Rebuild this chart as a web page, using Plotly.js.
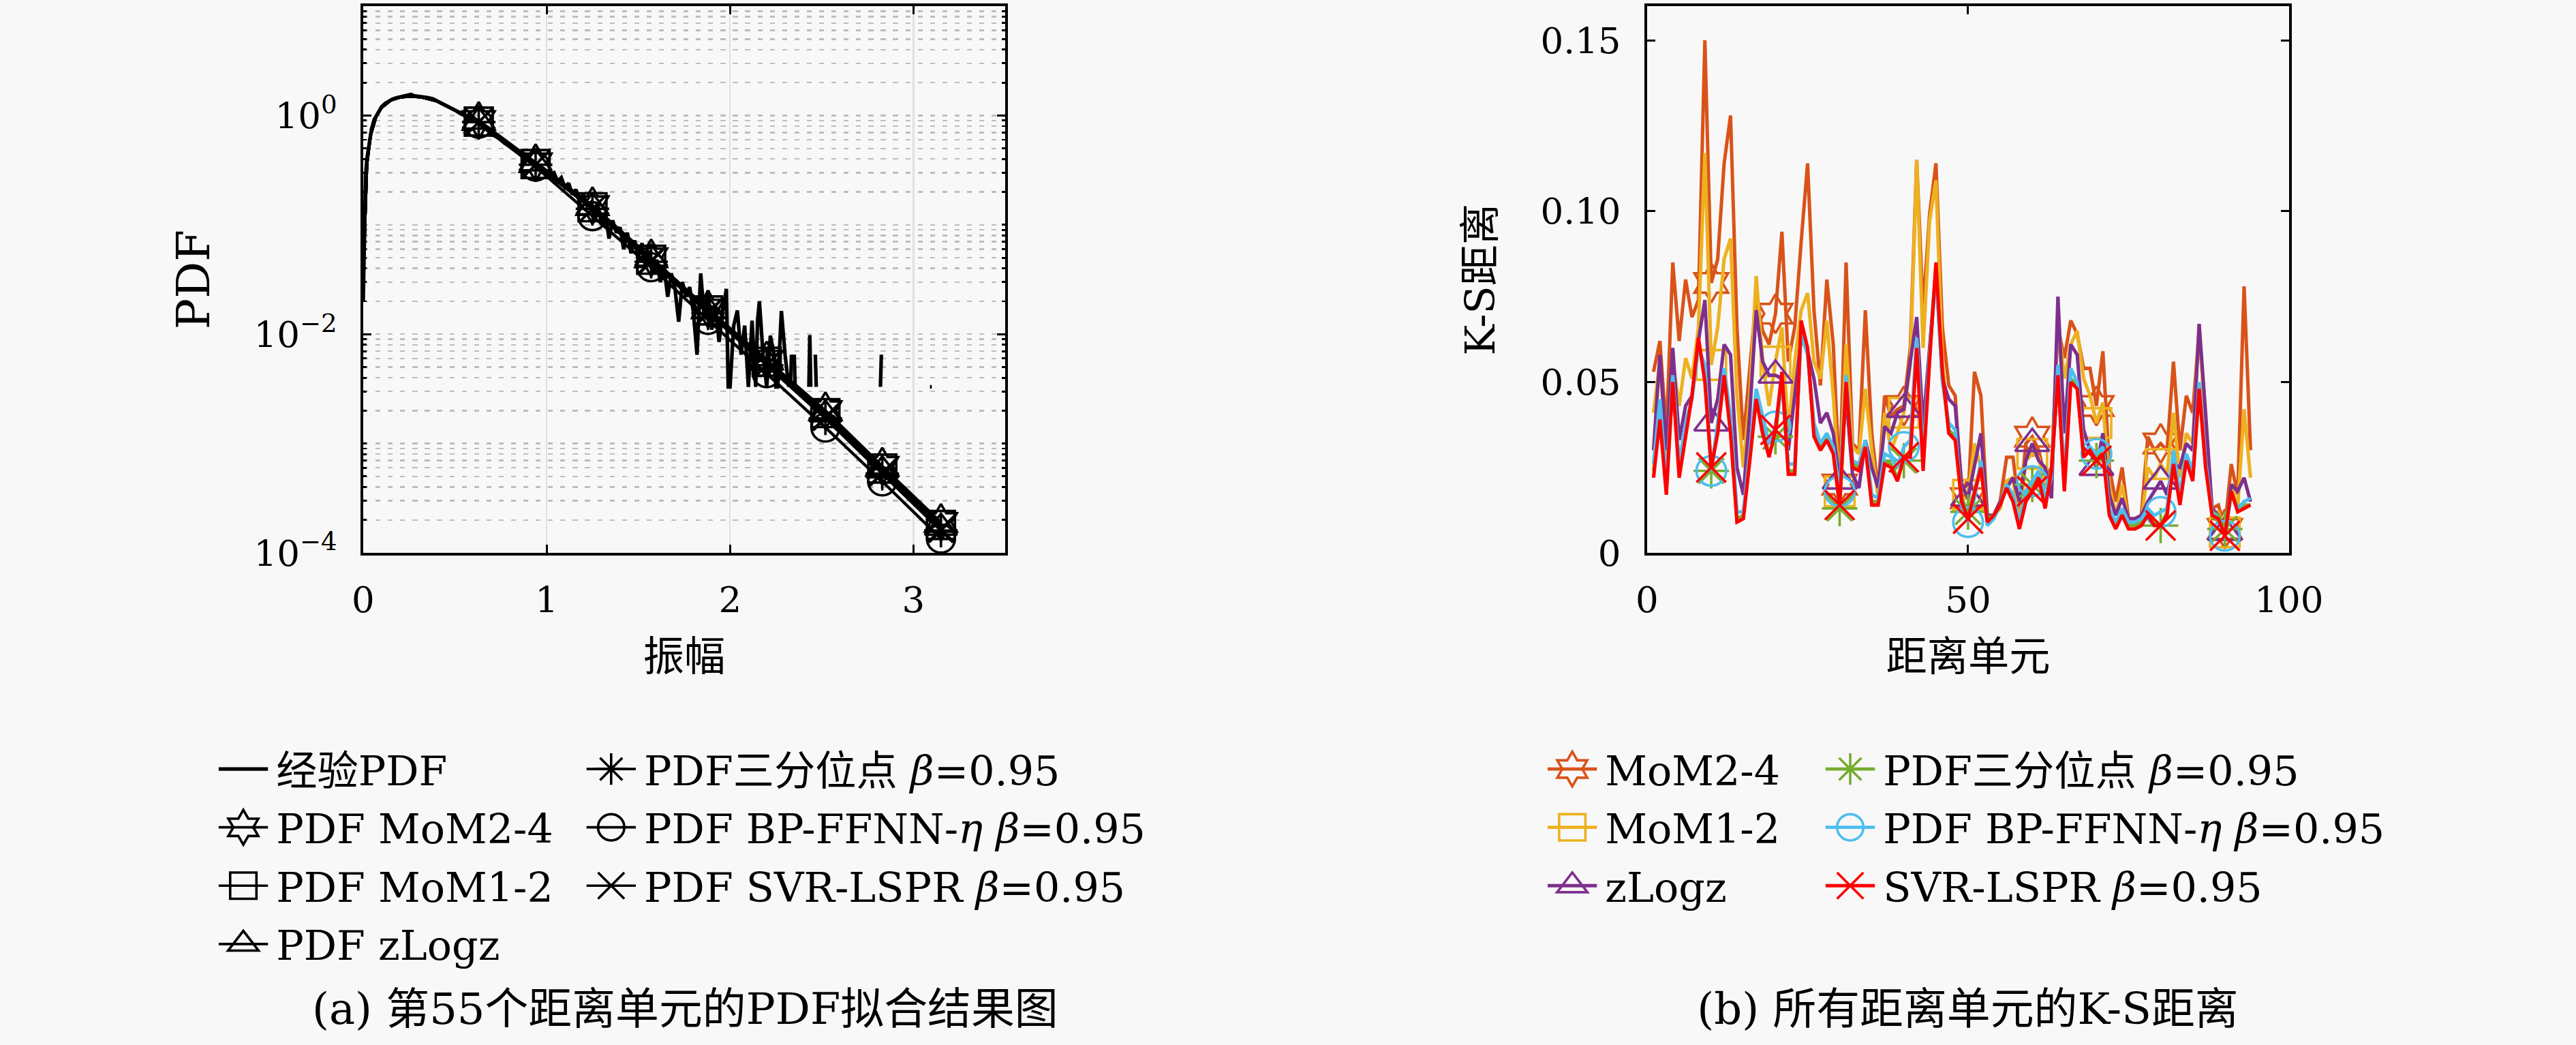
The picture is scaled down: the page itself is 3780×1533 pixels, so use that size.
<!DOCTYPE html>
<html>
<head>
<meta charset="utf-8">
<script src="https://cdn.plot.ly/plotly-3.0.1.min.js"></script>
<style>
	body  { margin: 0; background: #f8f8f8; }
	#wrap { width: 3780px; height: 1533px; overflow: hidden; }
	#plot { width: 1568px; height: 636px; transform: scale( 2.41071 ); transform-origin: 0 0; }
</style>
</head>
<body>
<div id="wrap"><div id="plot"></div></div>
<script>
// (a) empirical PDF of range cell 55, null = empty bin (gap on log axis)
const EMP_X = [ 0, 0.004, 0.008, 0.013, 0.02, 0.03, 0.045, 0.06, 0.08, 0.1, 0.12, 0.14, 0.16, 0.18,
	0.2, 0.22, 0.24, 0.26, 0.28, 0.3, 0.32, 0.35, 0.38, 0.41, 0.44, 0.47, 0.5, 0.53, 0.56, 0.59,
	0.62, 0.65, 0.68, 0.71, 0.74, 0.77, 0.8, 0.83, 0.86, 0.89, 0.92, 0.95, 0.98,
	1.0, 1.02, 1.04, 1.06, 1.08, 1.1, 1.12, 1.14, 1.16, 1.18, 1.2, 1.22, 1.24, 1.26, 1.28, 1.3,
	1.32, 1.34, 1.36, 1.38, 1.4, 1.42, 1.44, 1.46, 1.48, 1.5, 1.52, 1.54, 1.56, 1.58,
	1.6, 1.62, 1.64, 1.66, 1.68, 1.7, 1.72, 1.74, 1.76, 1.78, 1.8, 1.82, 1.84, 1.86, 1.88, 1.9,
	1.92, 1.94, 1.96, 1.98, 1.99, 2.0, 2.02, 2.04, 2.06, 2.08, 2.1, 2.12, 2.14, 2.15, 2.16, 2.18,
	2.2, 2.22, 2.24, 2.25, 2.26, 2.28, 2.3, 2.32, null,
	2.33, 2.335, null, 2.35, 2.355, null, 2.43, 2.435, 2.44, null, 2.465, 2.47, null,
	2.82, 2.825, null, 3.09, 3.1 ];
const EMP_Y = [ 0.02, 0.09, 0.17, 0.28, 0.4, 0.55, 0.75, 0.92, 1.08, 1.2, 1.29, 1.36, 1.41, 1.45,
	1.47, 1.5, 1.52, 1.56, 1.51, 1.5, 1.48, 1.46, 1.42, 1.34, 1.28, 1.19, 1.12, 1.04, 0.98, 0.92,
	0.88, 0.8, 0.74, 0.66, 0.62, 0.56, 0.53, 0.49, 0.46, 0.41, 0.39, 0.35, 0.33,
	0.31, 0.29, 0.3, 0.25, 0.27, 0.22, 0.24, 0.19, 0.21, 0.17, 0.19, 0.15, 0.16, 0.12, 0.15, 0.1,
	0.13, 0.075, 0.11, 0.085, 0.095, 0.06, 0.085, 0.055, 0.072, 0.05, 0.068, 0.04, 0.058, 0.036,
	0.048, 0.03, 0.042, 0.022, 0.036, 0.026, 0.013, 0.03, 0.022, 0.027, 0.016, 0.0065, 0.036, 0.014, 0.025, 0.011,
	0.019, 0.0085, 0.016, 0.026, 0.0033, 0.0033, 0.012, 0.0165, 0.0065, 0.012, 0.0033, 0.0133, 0.0033, 0.0133, 0.02, 0.0065,
	0.0033, 0.0097, 0.0065, 0.0033, 0.0033, 0.0163, 0.0065, 0.0033, null,
	0.0033, 0.0065, null, 0.0065, 0.0033, null, 0.0033, 0.0098, 0.0033, null, 0.0065, 0.0033, null,
	0.0033, 0.0065, null, 0.0033, 0.0033 ];

// (a) fitted PDFs: common rising part + values at the marked amplitudes
const FIT_HEAD_X = [ 0.003, 0.01, 0.02, 0.04, 0.07, 0.1, 0.15, 0.2, 0.26, 0.32, 0.4, 0.5 ];
const FIT_HEAD_Y = [ 0.05, 0.18, 0.36, 0.66, 0.98, 1.18, 1.38, 1.47, 1.5, 1.47, 1.36, 1.12 ];
const FIT_MARK_X = [ 0.63, 0.94, 1.25, 1.57, 1.88, 2.2, 2.52, 2.83, 3.15 ];
const FIT_MOM24  = [ 0.9, 0.37, 0.15, 0.05, 0.017, 0.0058, 0.002, 0.00062, 0.00019 ];
const FIT_MOM12  = [ 0.88, 0.36, 0.145, 0.048, 0.0165, 0.0056, 0.0019, 0.00059, 0.00018 ];
const FIT_ZLOGZ  = [ 0.88, 0.365, 0.145, 0.049, 0.0165, 0.0055, 0.00185, 0.00057, 0.00017 ];
const FIT_TRI    = [ 0.87, 0.355, 0.14, 0.046, 0.0155, 0.0052, 0.0017, 0.00053, 0.00016 ];
const FIT_BP     = [ 0.84, 0.34, 0.12, 0.041, 0.0135, 0.0044, 0.0014, 0.00045, 0.000135 ];
const FIT_SVR    = [ 0.87, 0.355, 0.14, 0.047, 0.0158, 0.0053, 0.00175, 0.00054, 0.000165 ];

// (b) K-S distance for all range cells
const CELLS = [ 1, 2, 3, 4, 5, 6, 7, 8, 9, 10, 11, 12, 13, 14, 15, 16, 17, 18, 19, 20,
	21, 22, 23, 24, 25, 26, 27, 28, 29, 30, 31, 32, 33, 34, 35, 36, 37, 38, 39, 40,
	41, 42, 43, 44, 45, 46, 47, 48, 49, 50, 51, 52, 53, 54, 55, 56, 57, 58, 59, 60,
	61, 62, 63, 64, 65, 66, 67, 68, 69, 70, 71, 72, 73, 74, 75, 76, 77, 78, 79, 80,
	81, 82, 83, 84, 85, 86, 87, 88, 89, 90, 91, 92, 93, 94 ];
const MARK_CELLS = [ 10, 20, 30, 40, 50, 60, 70, 80, 90 ];
const KS_MOM24 = [ 0.053, 0.062, 0.035, 0.085, 0.062, 0.080, 0.069, 0.074, 0.150, 0.079,
	0.086, 0.114, 0.128, 0.066, 0.033, 0.056, 0.075, 0.065, 0.061, 0.070,
	0.094, 0.056, 0.066, 0.091, 0.114, 0.071, 0.049, 0.080, 0.061, 0.020,
	0.085, 0.032, 0.030, 0.071, 0.035, 0.018, 0.046, 0.040, 0.042, 0.043,
	0.060, 0.115, 0.071, 0.099, 0.114, 0.066, 0.049, 0.046, 0.017, 0.016,
	0.053, 0.046, 0.011, 0.011, 0.015, 0.028, 0.028, 0.012, 0.032, 0.034,
	0.030, 0.022, 0.025, 0.066, 0.057, 0.068, 0.064, 0.054, 0.054, 0.043,
	0.059, 0.025, 0.015, 0.025, 0.010, 0.010, 0.011, 0.034, 0.030, 0.032,
	0.030, 0.056, 0.030, 0.046, 0.041, 0.065, 0.040, 0.013, 0.014, 0.007,
	0.026, 0.017, 0.078, 0.030 ];
const KS_MOM12 = [ 0.041, 0.056, 0.028, 0.056, 0.043, 0.057, 0.051, 0.066, 0.117, 0.055,
	0.066, 0.086, 0.092, 0.046, 0.025, 0.046, 0.081, 0.056, 0.043, 0.056,
	0.066, 0.035, 0.056, 0.071, 0.076, 0.056, 0.051, 0.068, 0.046, 0.018,
	0.061, 0.031, 0.029, 0.048, 0.030, 0.016, 0.041, 0.030, 0.035, 0.041,
	0.055, 0.115, 0.060, 0.097, 0.109, 0.056, 0.035, 0.033, 0.015, 0.017,
	0.032, 0.025, 0.010, 0.011, 0.013, 0.021, 0.022, 0.008, 0.027, 0.029,
	0.028, 0.019, 0.021, 0.068, 0.051, 0.061, 0.065, 0.051, 0.046, 0.038,
	0.044, 0.020, 0.011, 0.020, 0.009, 0.008, 0.009, 0.025, 0.022, 0.026,
	0.023, 0.041, 0.022, 0.035, 0.032, 0.067, 0.035, 0.012, 0.012, 0.006,
	0.020, 0.013, 0.042, 0.022 ];
const KS_ZLOGZ = [ 0.030, 0.058, 0.030, 0.060, 0.033, 0.043, 0.046, 0.062, 0.074, 0.038,
	0.045, 0.061, 0.058, 0.025, 0.017, 0.041, 0.071, 0.056, 0.052, 0.052,
	0.051, 0.030, 0.046, 0.063, 0.059, 0.051, 0.038, 0.041, 0.035, 0.021,
	0.046, 0.023, 0.019, 0.033, 0.025, 0.019, 0.037, 0.035, 0.041, 0.042,
	0.056, 0.069, 0.037, 0.061, 0.083, 0.051, 0.045, 0.043, 0.020, 0.016,
	0.025, 0.035, 0.011, 0.011, 0.015, 0.019, 0.022, 0.015, 0.027, 0.032,
	0.027, 0.025, 0.016, 0.075, 0.035, 0.061, 0.058, 0.036, 0.030, 0.025,
	0.035, 0.017, 0.011, 0.016, 0.010, 0.010, 0.011, 0.015, 0.018, 0.021,
	0.017, 0.026, 0.025, 0.032, 0.030, 0.067, 0.041, 0.013, 0.011, 0.006,
	0.020, 0.018, 0.022, 0.015 ];
const KS_TRI = [ 0.024, 0.041, 0.019, 0.051, 0.024, 0.036, 0.046, 0.062, 0.052, 0.024,
	0.036, 0.052, 0.036, 0.010, 0.011, 0.028, 0.046, 0.036, 0.029, 0.034,
	0.052, 0.024, 0.024, 0.066, 0.059, 0.035, 0.031, 0.034, 0.030, 0.013,
	0.049, 0.026, 0.025, 0.032, 0.015, 0.015, 0.027, 0.026, 0.022, 0.027,
	0.030, 0.062, 0.026, 0.057, 0.084, 0.052, 0.036, 0.034, 0.016, 0.012,
	0.018, 0.026, 0.010, 0.011, 0.014, 0.019, 0.016, 0.008, 0.016, 0.020,
	0.023, 0.014, 0.024, 0.053, 0.019, 0.051, 0.049, 0.029, 0.030, 0.027,
	0.030, 0.012, 0.008, 0.012, 0.008, 0.008, 0.009, 0.012, 0.009, 0.008,
	0.012, 0.027, 0.015, 0.028, 0.022, 0.049, 0.026, 0.012, 0.011, 0.007,
	0.018, 0.013, 0.014, 0.014 ];
const KS_BP = [ 0.026, 0.045, 0.020, 0.052, 0.026, 0.038, 0.045, 0.060, 0.055, 0.024,
	0.038, 0.054, 0.040, 0.012, 0.012, 0.030, 0.048, 0.040, 0.032, 0.037,
	0.050, 0.026, 0.026, 0.064, 0.058, 0.038, 0.032, 0.035, 0.031, 0.018,
	0.052, 0.027, 0.026, 0.033, 0.017, 0.016, 0.029, 0.028, 0.025, 0.031,
	0.033, 0.063, 0.028, 0.058, 0.082, 0.050, 0.038, 0.036, 0.014, 0.009,
	0.016, 0.027, 0.008, 0.010, 0.014, 0.020, 0.017, 0.009, 0.018, 0.021,
	0.024, 0.016, 0.022, 0.055, 0.022, 0.054, 0.050, 0.030, 0.031, 0.029,
	0.031, 0.013, 0.009, 0.013, 0.009, 0.009, 0.010, 0.013, 0.011, 0.012,
	0.013, 0.030, 0.017, 0.029, 0.024, 0.050, 0.027, 0.012, 0.010, 0.005,
	0.017, 0.013, 0.015, 0.016 ];
const KS_SVR = [ 0.022, 0.039, 0.017, 0.050, 0.022, 0.035, 0.046, 0.063, 0.050, 0.025,
	0.035, 0.052, 0.035, 0.009, 0.010, 0.027, 0.045, 0.035, 0.028, 0.036,
	0.053, 0.023, 0.023, 0.068, 0.060, 0.034, 0.030, 0.033, 0.029, 0.014,
	0.050, 0.025, 0.024, 0.031, 0.014, 0.014, 0.026, 0.025, 0.021, 0.028,
	0.028, 0.060, 0.024, 0.056, 0.085, 0.053, 0.035, 0.033, 0.015, 0.010,
	0.017, 0.025, 0.009, 0.011, 0.014, 0.019, 0.015, 0.007, 0.015, 0.018,
	0.022, 0.013, 0.024, 0.052, 0.018, 0.050, 0.048, 0.028, 0.030, 0.027,
	0.029, 0.011, 0.007, 0.011, 0.007, 0.007, 0.008, 0.011, 0.008, 0.008,
	0.011, 0.026, 0.014, 0.027, 0.021, 0.048, 0.025, 0.011, 0.010, 0.005,
	0.018, 0.012, 0.013, 0.014 ];

const BG        = '#f8f8f8';
const FONT      = '"DejaVu Serif", "Noto Sans CJK SC", serif';
const MARK_SIZE = 18;
const GRID_DASH = '3px,4.5px';
const METHODS   = [
	{ name: 'MoM2-4',                            symbol: 'hexagram-open',    color: 'rgb(217,83,25)',  fit: FIT_MOM24, ks: KS_MOM24 },
	{ name: 'MoM1-2',                            symbol: 'square-open',      color: 'rgb(237,177,32)', fit: FIT_MOM12, ks: KS_MOM12 },
	{ name: 'zLogz',                             symbol: 'triangle-up-open', color: 'rgb(126,47,142)', fit: FIT_ZLOGZ, ks: KS_ZLOGZ },
	{ name: 'PDF三分位点 <i>β</i>=0.95',          symbol: 'asterisk-open',    color: 'rgb(119,172,48)', fit: FIT_TRI,   ks: KS_TRI },
	{ name: 'PDF BP-FFNN-<i>η</i> <i>β</i>=0.95', symbol: 'circle-open',      color: 'rgb(77,190,238)', fit: FIT_BP,    ks: KS_BP },
	{ name: 'SVR-LSPR <i>β</i>=0.95',            symbol: 'x-thin-open',      color: 'rgb(255,0,0)',    fit: FIT_SVR,   ks: KS_SVR }
];
// left panel legend labels carry the "PDF " prefix
const LEFT_NAMES = [ 'PDF MoM2-4', 'PDF MoM1-2', 'PDF zLogz', 'PDF三分位点 <i>β</i>=0.95',
	'PDF BP-FFNN-<i>η</i> <i>β</i>=0.95', 'PDF SVR-LSPR <i>β</i>=0.95' ];

function make_line( x, y, color, width, xa, ya ) {
	return {
		x: x, y: y, xaxis: xa, yaxis: ya,
		mode: 'lines', line: { color: color, width: width },
		connectgaps: false, showlegend: false, hoverinfo: 'skip'
	};
}

function make_markers( x, y, symbol, color, size, xa, ya ) {
	return {
		x: x, y: y, xaxis: xa, yaxis: ya,
		mode: 'markers', showlegend: false, hoverinfo: 'skip',
		marker: { symbol: symbol, size: size, color: color, line: { width: 1.5 } }
	};
}

// legend-only entry: line with marker, no data drawn
function make_proxy( name, symbol, color, width, legend, xa, ya ) {
	return {
		x: [ null ], y: [ null ], xaxis: xa, yaxis: ya,
		mode: 'lines+markers', name: name, legend: legend,
		line  : { color: color, width: width },
		marker: { symbol: symbol, size: 16, color: color, line: { width: 1.5 } }
	};
}

function make_traces() {
	let traces = [];
	let proxies = [];

	traces.push( {
		x: EMP_X, y: EMP_Y, xaxis: 'x', yaxis: 'y',
		mode: 'lines', line: { color: 'black', width: 2.2 },
		connectgaps: false, name: '经验PDF', legend: 'legend', hoverinfo: 'skip'
	} );

	for ( let n = 0; n < METHODS.length; n++ ) {
		const m = METHODS[ n ];
		traces.push( make_line( FIT_HEAD_X.concat( FIT_MARK_X ), FIT_HEAD_Y.concat( m.fit ), 'black', 1.8, 'x', 'y' ) );
		traces.push( make_markers( FIT_MARK_X, m.fit, m.symbol, 'black', 17, 'x', 'y' ) );
		proxies.push( make_proxy( LEFT_NAMES[ n ], m.symbol, 'black', 1.5, n < 3 ? 'legend' : 'legend2', 'x', 'y' ) );
	}

	for ( let n = 0; n < METHODS.length; n++ ) {
		const m = METHODS[ n ];
		traces.push( make_line( CELLS, m.ks, m.color, 2.1, 'x2', 'y2' ) );
		traces.push( make_markers( MARK_CELLS, MARK_CELLS.map( k => m.ks[ CELLS.indexOf( k ) ] ), m.symbol, m.color, MARK_SIZE, 'x2', 'y2' ) );
		proxies.push( make_proxy( m.name, m.symbol, m.color, 2, n < 3 ? 'legend3' : 'legend4', 'x2', 'y2' ) );
	}
	return traces.concat( proxies );
}

function make_legend( x ) {
	return {
		x: x, y: 0.30, xanchor: 'left', yanchor: 'top',
		bgcolor: 'rgba(0,0,0,0)', borderwidth: 0, itemwidth: 30,
		traceorder: 'normal', font: { family: FONT, size: 25, color: 'black' }
	};
}

function draw() {
	let minor_y = [];
	for ( let e = -4; e <= 0; e++ ) {
		for ( let d = 1; d <= 9; d++ ) minor_y.push( d * Math.pow( 10, e ) );
	}

	const axis_common = {
		showline: true, linecolor: 'black', linewidth: 1.5, mirror: 'ticks',
		ticks: 'inside', ticklen: 5, tickwidth: 1.2, tickcolor: 'black',
		zeroline: false, tickfont: { family: FONT, size: 22, color: 'black' }
	};
	const title_font   = { family: FONT, size: 25, color: 'black' };
	const caption_font = { family: FONT, size: 26.5, color: 'black' };

	var layout = {
		width        : 1568,
		height       : 636,
		margin       : { l: 0, r: 0, t: 0, b: 0 },
		paper_bgcolor: BG,
		plot_bgcolor : BG,
		font         : { family: FONT, size: 23, color: 'black' },
		showlegend   : true,
		xaxis: {
			...axis_common, domain: [ 0.141, 0.3902 ], anchor: 'y',
			range: [ 0, 3.5 ], tickvals: [ 0, 1, 2, 3 ], ticklabelstandoff: 8,
			showgrid: true, gridcolor: '#e0e0e0', gridwidth: 1,
			title: { text: '振幅', font: title_font, standoff: 14 }
		},
		yaxis: {
			...axis_common, domain: [ 0.471, 0.9941 ], anchor: 'x',
			type: 'log', range: [ -4, 1 ], ticklabelstandoff: 10,
			tickvals: [ 1e-4, 1e-2, 1 ],
			ticktext: [ '10<sup>−4</sup>', '10<sup>−2</sup>', '10<sup>0</sup>' ],
			showgrid: true, gridcolor: '#bdbdbd', gridwidth: 1, griddash: GRID_DASH,
			minor: { tickmode: 'array', tickvals: minor_y, ticks: 'inside', ticklen: 2,
				tickcolor: 'black', showgrid: true,
				gridcolor: '#bdbdbd', gridwidth: 1, griddash: GRID_DASH },
			title: { text: 'PDF', font: { ...title_font, size: 28 }, standoff: 18 }
		},
		xaxis2: {
			...axis_common, domain: [ 0.6394, 0.8886 ], anchor: 'y2',
			range: [ 0, 100 ], tickvals: [ 0, 50, 100 ], ticklabelstandoff: 8,
			showgrid: false,
			title: { text: '距离单元', font: title_font, standoff: 14 }
		},
		yaxis2: {
			...axis_common, domain: [ 0.471, 0.9941 ], anchor: 'x2',
			range: [ 0, 0.16 ], tickvals: [ 0, 0.05, 0.1, 0.15 ], ticklabelstandoff: 10,
			ticktext: [ '0', '0.05', '0.10', '0.15' ],
			showgrid: false,
			title: { text: 'K-S距离', font: title_font, standoff: 20 }
		},
		legend : make_legend( 0.0817 ),
		legend2: make_legend( 0.2245 ),
		legend3: make_legend( 0.5976 ),
		legend4: make_legend( 0.7055 ),
		annotations: [
			{ text: '(a) 第55个距离单元的PDF拟合结果图', xref: 'paper', yref: 'paper',
			  x: 0.266, y: 0.0346, xanchor: 'center', yanchor: 'middle', showarrow: false, font: caption_font },
			{ text: '(b) 所有距离单元的K-S距离', xref: 'paper', yref: 'paper',
			  x: 0.764, y: 0.0346, xanchor: 'center', yanchor: 'middle', showarrow: false, font: caption_font }
		]
	};
	Plotly.newPlot( 'plot', make_traces(), layout, { staticPlot: true, displayModeBar: false } );
}

draw();
</script>
</body>
</html>
